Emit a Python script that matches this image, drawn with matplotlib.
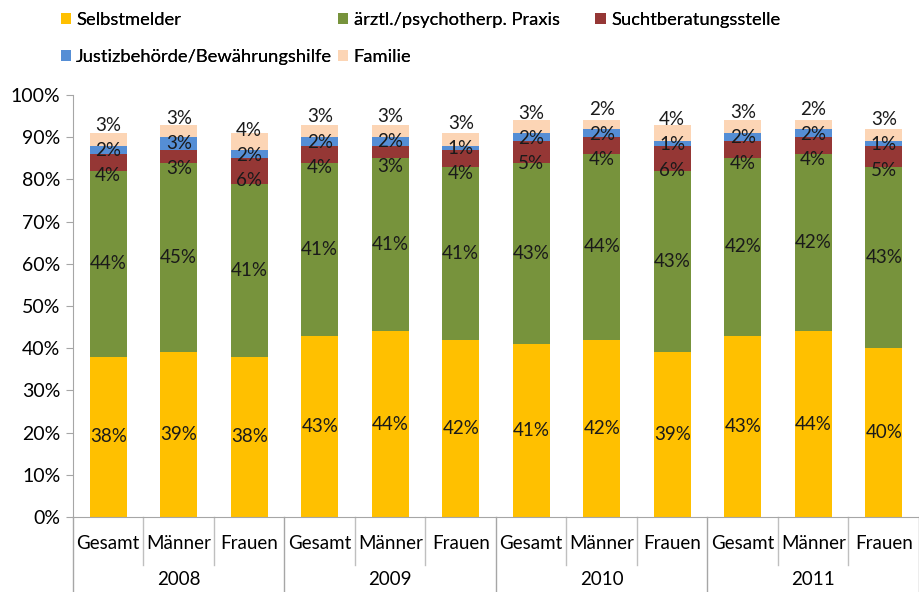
import numpy as np
import matplotlib
matplotlib.use("Agg")
import matplotlib.pyplot as plt
import matplotlib.transforms as mtransforms
from matplotlib.ticker import PercentFormatter

plt.rcParams['font.family'] = ['Lato', 'DejaVu Sans']

years = ['2008', '2009', '2010', '2011']
groups = ['Gesamt', 'Männer', 'Frauen']
categories = [g for y in years for g in groups]

selbstmelder = [38, 39, 38, 43, 44, 42, 41, 42, 39, 43, 44, 40]
praxis = [44, 45, 41, 41, 41, 41, 43, 44, 43, 42, 42, 43]
sucht = [4, 3, 6, 4, 3, 4, 5, 4, 6, 4, 4, 5]
justiz = [2, 3, 2, 2, 2, 1, 2, 2, 1, 2, 2, 1]
familie = [3, 3, 4, 3, 3, 3, 3, 2, 4, 3, 2, 3]

series = [
    ('Selbstmelder', selbstmelder, '#FFC000'),
    ('ärztl./psychotherp. Praxis', praxis, '#77933C'),
    ('Suchtberatungsstelle', sucht, '#953735'),
    ('Justizbehörde/Bewährungshilfe', justiz, '#558ED5'),
    ('Familie', familie, '#FCD5B5'),
]


def spread(pos, gap):
    # keep labels at least `gap` apart, as close to the centres as possible
    z = [p - i * gap for i, p in enumerate(pos)]
    blocks = []
    for v in z:
        blocks.append([v, 1])
        while len(blocks) > 1 and blocks[-2][0] > blocks[-1][0]:
            v2, n2 = blocks.pop()
            v1, n1 = blocks.pop()
            blocks.append([(v1 * n1 + v2 * n2) / (n1 + n2), n1 + n2])
    out = []
    for v, n in blocks:
        out += [v] * n
    return [o + i * gap for i, o in enumerate(out)]


fig = plt.figure(figsize=(9.19, 5.92), dpi=100)
ax = fig.add_axes([0.0794, 0.1267, 0.9206, 0.7128])

x = np.arange(len(categories))
bottom = np.zeros(len(categories))
handles = []
centres = []
for name, vals, col in series:
    vals = np.array(vals, dtype=float)
    b = ax.bar(x, vals, 0.52, bottom=bottom, color=col, label=name)
    handles.append(b)
    centres.append(bottom + vals / 2)
    bottom += vals

for j, xi in enumerate(x):
    ys = spread([c[j] for c in centres], 6.0)
    for k, yv in enumerate(ys):
        ax.text(xi, yv, f'{series[k][1][j]}%', ha='center', va='center',
                fontsize=13.5, color='#1a1a1a')

ax.set_xlim(-0.5, len(categories) - 0.5)
ax.set_ylim(0, 100)
ax.set_yticks(np.arange(0, 101, 10))
ax.yaxis.set_major_formatter(PercentFormatter(decimals=0))
ax.tick_params(axis='y', labelsize=14, length=5, color='#A6A6A6', pad=4)
ax.set_xticks([])
for s in ['top', 'right']:
    ax.spines[s].set_visible(False)
for s in ['left', 'bottom']:
    ax.spines[s].set_color('#A6A6A6')

trans = mtransforms.blended_transform_factory(ax.transData, ax.transAxes)
ybot = -0.1267 / 0.7128
for i in range(len(categories) + 1):
    xs = i - 0.5
    if i % 3 == 0:
        ax.plot([xs, xs], [0, ybot], transform=trans, color='#A6A6A6',
                lw=1, clip_on=False)
    else:
        ax.plot([xs, xs], [0, -0.114], transform=trans, color='#BFBFBF',
                lw=1, clip_on=False)
for xi, c in zip(x, categories):
    ax.text(xi, -0.062, c, transform=trans, ha='center', va='center',
            fontsize=13.5)
for j, yr in enumerate(years):
    ax.text(3 * j + 1, -0.149, yr, transform=trans, ha='center',
            va='center', fontsize=13.5)

# legend: three fixed columns like the original
columns = [[0, 3], [1, 4], [2]]
col_x = [0.052, 0.354, 0.634]
for cols, cx in zip(columns, col_x):
    leg = fig.legend([handles[i] for i in cols], [series[i][0] for i in cols],
                     loc='upper left', bbox_to_anchor=(cx, 1.002), ncol=1,
                     frameon=False, fontsize=13.2, handlelength=0.55,
                     handleheight=0.55, handletextpad=0.3, labelspacing=1.15,
                     borderaxespad=0.3)
    fig.add_artist(leg)

fig.savefig('out.png', dpi=100)
